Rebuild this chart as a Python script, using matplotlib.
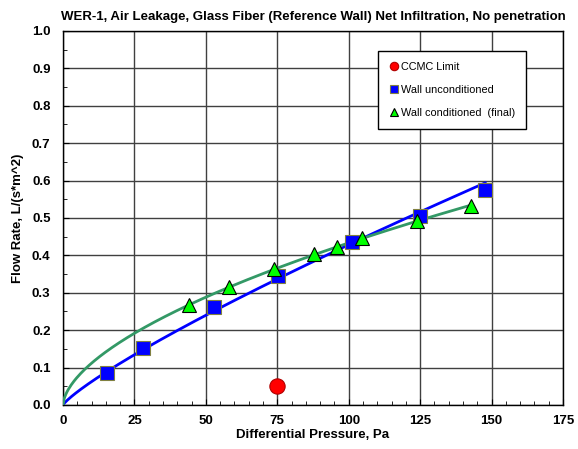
import numpy as np
import matplotlib.pyplot as plt
from matplotlib.ticker import MultipleLocator

plt.rcParams['font.family'] = ['Liberation Sans', 'DejaVu Sans']

# data
ccmc_x = [75]
ccmc_y = [0.05]

uncond_x = [15.3, 28, 52.9, 75.1, 101, 125.1, 147.8]
uncond_y = [0.085, 0.152, 0.263, 0.345, 0.435, 0.505, 0.575]

cond_x = [44.2, 58, 73.9, 87.9, 95.9, 104.8, 123.9, 142.7]
cond_y = [0.267, 0.315, 0.364, 0.403, 0.422, 0.446, 0.492, 0.532]


def power_fit(x, y):
    # power trendline y = a * x^n, least squares in log-log space
    n, ln_a = np.polyfit(np.log(x), np.log(y), 1)
    xs = np.linspace(0, max(x), 300)
    return xs, np.exp(ln_a) * xs ** n


fig = plt.figure(figsize=(5.78, 4.49), dpi=100)
ax = fig.add_axes([0.109, 0.098, 0.865, 0.833])

xs, ys = power_fit(uncond_x, uncond_y)
ax.plot(xs, ys, color='#0000FF', lw=2, zorder=3)
xs, ys = power_fit(cond_x, cond_y)
ax.plot(xs, ys, color='#339966', lw=2, zorder=3)

ax.plot(ccmc_x, ccmc_y, 'o', ms=11, mfc='#FF0000', mec='#B00000', mew=0.8,
        label='CCMC Limit', zorder=4)
ax.plot(uncond_x, uncond_y, 's', ms=10, mfc='#0000FF', mec='#808040', mew=0.8,
        label='Wall unconditioned', zorder=4)
ax.plot(cond_x, cond_y, '^', ms=10, mfc='#00FF00', mec='black', mew=0.8,
        label='Wall conditioned  (final)', zorder=5)

ax.set_xlim(0, 175)
ax.set_ylim(0, 1.0)
ax.xaxis.set_major_locator(MultipleLocator(25))
ax.xaxis.set_minor_locator(MultipleLocator(5))
ax.yaxis.set_major_locator(MultipleLocator(0.1))
ax.yaxis.set_minor_locator(MultipleLocator(0.05))
ax.yaxis.set_major_formatter(plt.FormatStrFormatter('%.1f'))
ax.tick_params(which='both', direction='in', labelsize=9.5)
ax.tick_params(which='major', length=4)
ax.tick_params(which='minor', length=3)
ax.tick_params(axis='y', which='major', pad=9)
ax.tick_params(axis='x', which='major', pad=7)
for lab in ax.get_xticklabels() + ax.get_yticklabels():
    lab.set_fontweight('bold')
ax.grid(True, which='major', color='#404040', lw=1)
for s in ax.spines.values():
    s.set_color('black')
    s.set_linewidth(1)

ax.set_title('WER-1, Air Leakage, Glass Fiber (Reference Wall) Net Infiltration, No penetration',
             fontsize=9.5, fontweight='bold', pad=8)
ax.set_xlabel('Differential Pressure, Pa', fontsize=9.5, fontweight='bold', labelpad=2)
ax.set_ylabel('Flow Rate, L/(s*m^2)', fontsize=9.5, fontweight='bold', labelpad=6)

leg = ax.legend(loc='upper left', bbox_to_anchor=(0.62, 0.96), fontsize=7.8,
                markerscale=0.55, handlelength=0.8, handletextpad=0.3,
                labelspacing=1.2, borderpad=1.0, fancybox=False, framealpha=1,
                edgecolor='black')
leg.get_frame().set_linewidth(1)

fig.savefig('out.png', dpi=100)
